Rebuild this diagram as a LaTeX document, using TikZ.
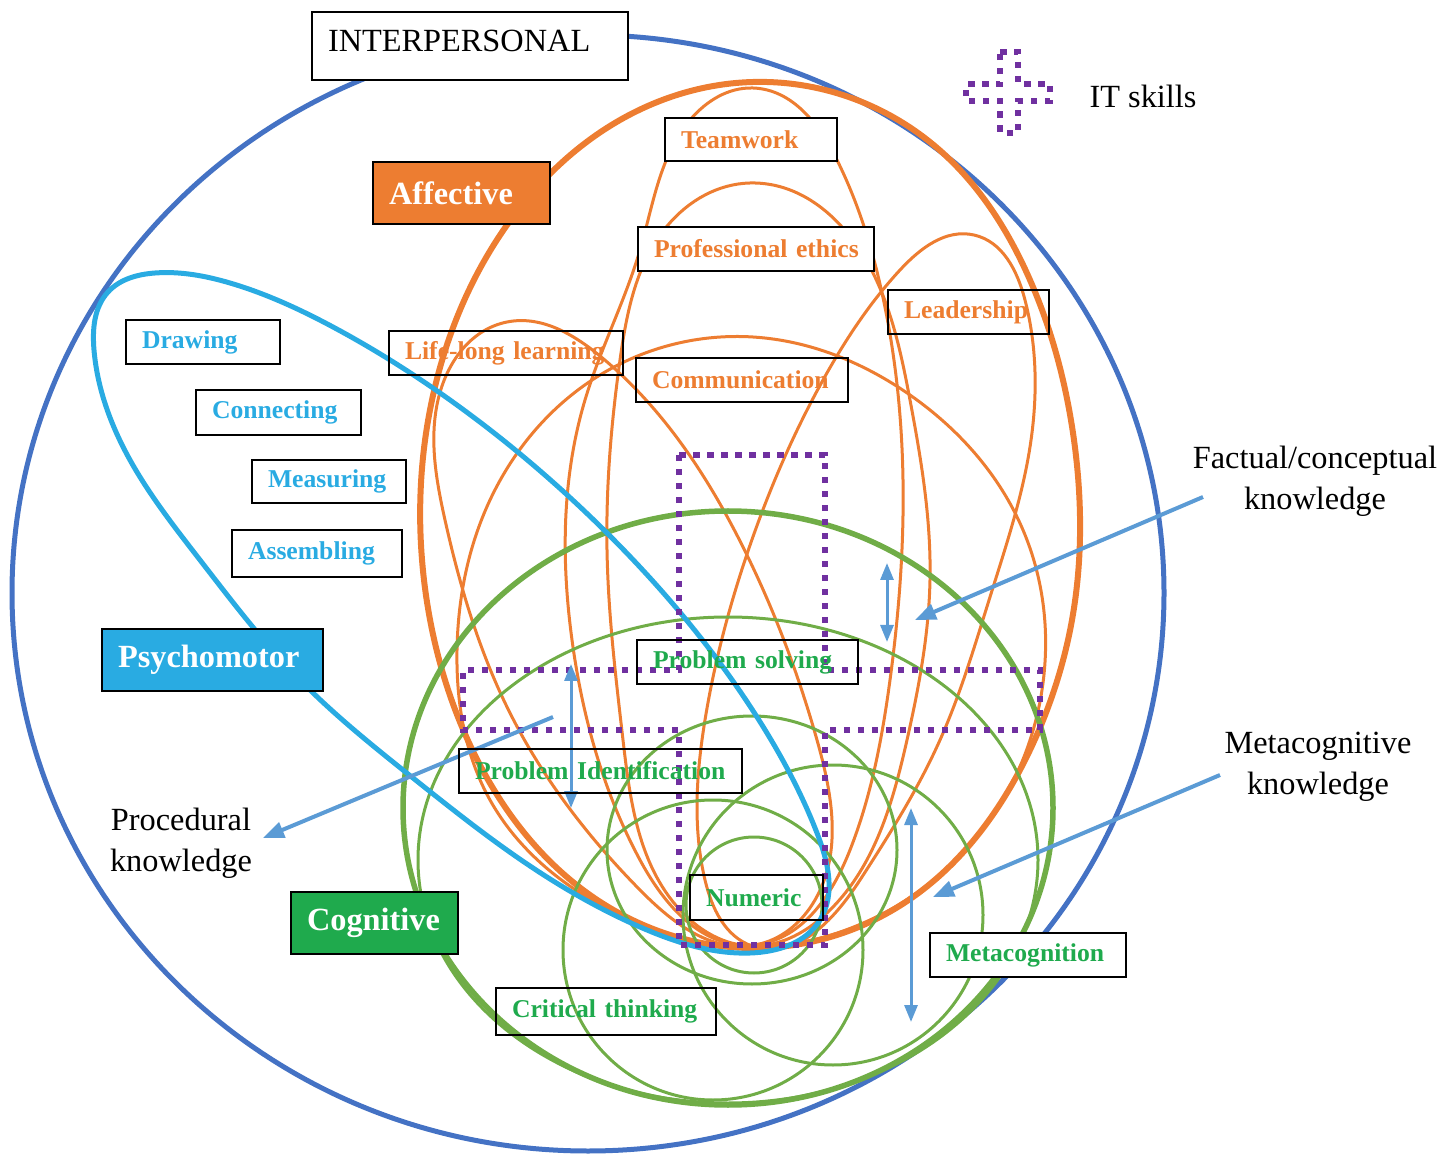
\documentclass[tikz,border=0pt]{standalone}
\usepackage{fontspec}
\setmainfont{Liberation Serif}
\usetikzlibrary{arrows.meta,hobby}
\definecolor{affOrange}{HTML}{ED7D31}
\definecolor{psyBlue}{HTML}{29ABE2}
\definecolor{cogGreen}{HTML}{1FAA4D}
\definecolor{lineGreen}{HTML}{70AD47}
\definecolor{ringBlue}{HTML}{4472C4}
\definecolor{arrBlue}{HTML}{5B9BD5}
\definecolor{itPurple}{HTML}{7030A0}
\tikzset{
  box/.style={draw=black, line width=0.2mm, anchor=north west, inner xsep=1.6mm, inner ysep=0pt, align=left, minimum height=4.4mm},
  skill/.style={box, font=\fontsize{7.3}{8.8}\selectfont\bfseries},
  domainbox/.style={box, font=\fontsize{9.2}{11}\selectfont\bfseries, text=white, minimum height=6.2mm},
  plain/.style={font=\fontsize{9.2}{11.7}\selectfont, align=center},
  thinO/.style={draw=affOrange, line width=0.3mm},
  thickO/.style={draw=affOrange, line width=0.6mm},
  thinG/.style={draw=lineGreen, line width=0.3mm},
  thickG/.style={draw=lineGreen, line width=0.55mm},
  itcross/.style={draw=itPurple, line width=0.65mm, dash pattern=on 0.65mm off 0.75mm},
  arr/.style={draw=arrBlue, line width=0.4mm, -{Triangle[length=2.1mm, width=1.6mm]}},
  dbl/.style={draw=arrBlue, line width=0.3mm, {Triangle[length=1.7mm, width=1.3mm]}-{Triangle[length=1.7mm, width=1.3mm]}}
}
\begin{document}
\begin{tikzpicture}[x=0.1mm, y=-0.1mm]
\useasboundingbox (0,0) rectangle (1456,1154);
\draw[ringBlue, line width=0.5mm] (588,593) ellipse [x radius=576, y radius=558];

\draw[thickO] plot[closed hobby] coordinates {(753,82) (936,147) (1030,280) (1074,440) (1072,620) (1030,750) (913,897) (750,948) (590,895) (470,745) (424,580) (432,400) (507,225) (620,120)};
\draw[thinO] plot[closed hobby] coordinates {(753,88) (837,160) (882,293) (903,480) (890,680) (850,850) (752,945) (640,860) (572,640) (585,400) (640,250) (690,120)};
\draw[thinO] plot[closed hobby] coordinates {(750,183) (873,273) (910,400) (930,580) (907,740) (830,910) (752,946) (680,910) (623,740) (607,550) (620,360) (668,225)};
\draw[thinO] plot[closed hobby] coordinates {(507,322) (600,356) (743,547) (817,740) (815,900) (755,945) (640,890) (510,713) (445,520) (438,400)};
\draw[thinO] plot[closed hobby] coordinates {(753,337) (910,395) (1023,530) (1042,690) (990,820) (870,920) (752,947) (620,915) (490,800) (457,650) (490,500) (600,375)};
\draw[thinO] plot[closed hobby] coordinates {(974,235) (1025,300) (1030,447) (990,597) (940,740) (860,880) (752,946) (705,880) (705,720) (745,560) (823,380) (900,270)};

\draw[thickG] (728,808) ellipse [x radius=325, y radius=297];
\draw[thinG] (728,860) ellipse [x radius=310, y radius=243];
\draw[thinG] (752,850) ellipse [x radius=145, y radius=134];
\draw[thinG] (713,950) circle [radius=150];
\draw[thinG] (754,905) circle [radius=68];
\draw[thinG] (833,915) circle [radius=150];

\draw[psyBlue, line width=0.5mm] plot[closed hobby] coordinates {(230,283) (333,327) (450,400) (607,533) (757,717) (817,833) (820,920) (750,953) (640,927) (530,866) (413,778) (300,680) (200,560) (130,460) (94,350) (108,292) (155,273)};

\draw[itcross] (679,455) -- (825,455) -- (825,670) -- (1040,670) -- (1040,730) -- (825,730) -- (825,945) -- (679,945) -- (679,730) -- (463,730) -- (463,670) -- (679,670) -- cycle;
\draw[itcross] (1000,52) -- (1018,52) -- (1018,84) -- (1050,84) -- (1050,101) -- (1018,101) -- (1018,133) -- (1000,133) -- (1000,101) -- (966,101) -- (966,84) -- (1000,84) -- cycle;

\coordinate (factTail) at (1203,497);
\coordinate (factHead) at (915,620);
\coordinate (metaTail) at (1220,775);
\coordinate (metaHead) at (933,897);
\coordinate (procTail) at (553,717);
\coordinate (procHead) at (263,838);
\coordinate (fcTop) at (887,563);
\coordinate (fcBot) at (887,642);
\coordinate (prTop) at (571,664);
\coordinate (prBot) at (571,808);
\coordinate (mcTop) at (911,808);
\coordinate (mcBot) at (911,1022);
\draw[arr] (factTail) -- (factHead);
\draw[arr] (metaTail) -- (metaHead);
\draw[arr] (procTail) -- (procHead);
\draw[dbl] (fcTop) -- (fcBot);
\draw[dbl] (prTop) -- (prBot);
\draw[dbl] (mcTop) -- (mcBot);

\node[box, fill=white, font=\fontsize{9.2}{11}\selectfont, text width=28.4mm, minimum height=6.8mm, text depth=1mm] (interpersonal) at (311,11) {INTERPERSONAL};
\node[domainbox, fill=affOrange, text width=14.5mm] (affective) at (372,161) {Affective};
\node[domainbox, fill=psyBlue, text width=18.9mm] (psychomotor) at (101,628) {Psychomotor};
\node[domainbox, fill=cogGreen, text width=13.5mm] (cognitive) at (290,891) {Cognitive};

\node[skill, text=affOrange, fill=white, text width=14.0mm, minimum height=4.3mm] (teamwork) at (664,117) {Teamwork};
\node[skill, text=affOrange, fill=white, text width=20.4mm] (ethics) at (637,226) {\mbox{Professional ethics}};
\node[skill, text=affOrange, text width=12.9mm] (leadership) at (887,289) {Leadership};
\node[skill, text=affOrange, text width=20.2mm] (lifelong) at (388,330) {\mbox{Life-long learning}};
\node[skill, text=affOrange, text width=18.0mm] (communication) at (635,357) {Communication};

\node[skill, text=psyBlue, text width=12.2mm] (drawing) at (125,319) {Drawing};
\node[skill, text=psyBlue, text width=13.3mm, minimum height=4.5mm] (connecting) at (195,389) {Connecting};
\node[skill, text=psyBlue, text width=12.2mm, minimum height=4.3mm] (measuring) at (251,459) {Measuring};
\node[skill, text=psyBlue, text width=13.8mm, minimum height=4.7mm] (assembling) at (231,529) {Assembling};

\node[skill, text=cogGreen, text width=18.9mm] (solving) at (636,639) {\mbox{Problem solving}};
\node[skill, text=cogGreen, text width=25.1mm] (identification) at (458,748) {\mbox{Problem Identification}};
\node[skill, text=cogGreen, text width=10.1mm, minimum height=4.5mm] (numeric) at (689,874) {Numeric};
\node[skill, text=cogGreen, fill=white, text width=16.4mm] (metacognition) at (929,932) {Metacognition};
\node[skill, text=cogGreen, text width=18.8mm, minimum height=4.7mm] (critical) at (495,987) {\mbox{Critical thinking}};

\node[plain] (itskills) at (1143,96) {IT skills};
\node[plain] (factual) at (1315,481) {Factual/conceptual\\knowledge};
\node[plain] (metaknow) at (1318,767) {Metacognitive\\knowledge};
\node[plain] (procedural) at (181,843) {Procedural\\knowledge};
\end{tikzpicture}
\end{document}
